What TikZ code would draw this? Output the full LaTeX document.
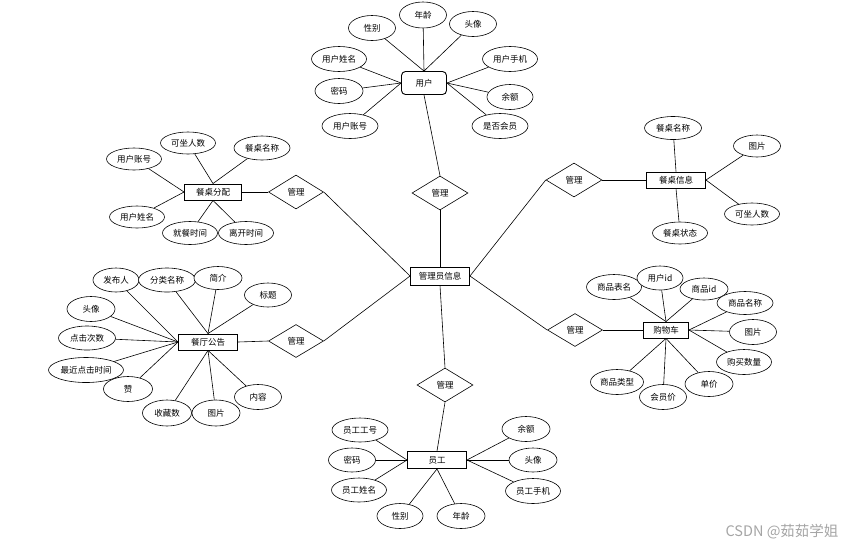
\documentclass[tikz,border=0pt]{standalone}
\usepackage{fontspec}
\newfontfamily\cjk{Noto Sans CJK SC}
\usetikzlibrary{shapes.geometric}
\definecolor{wmgray}{RGB}{165,165,165}
\tikzset{
  base/.style={font=\cjk\fontsize{8.5}{10}\selectfont, inner sep=0pt},
  attr/.style={base, ellipse, draw, line width=0.6pt, fill=white, minimum width=#1},
  attr/.default=47pt,
  ent/.style={base, rectangle, draw, line width=0.9pt, fill=white},
  rel/.style={base, diamond, draw, line width=0.6pt, fill=white, minimum width=56pt, minimum height=34pt},
  conn/.style={line width=0.6pt},
}
\begin{document}
\begin{tikzpicture}[x=1pt,y=-1pt]
\useasboundingbox (0,0) rectangle (851,547);

% ---------- central ----------
\node[ent, minimum width=59pt, minimum height=18pt] (adm) at (440,276) {管理员信息};

% ---------- 用户 ----------
\node[ent, rounded corners=4pt, minimum width=45pt, minimum height=23pt] (yh) at (424,83) {用户};
\node[rel] (d1) at (440,193) {管理};
\node[attr, minimum height=25pt] (yh1) at (372,28) {性别};
\node[attr, minimum height=26pt] (yh2) at (423,15) {年龄};
\node[attr, minimum height=25pt] (yh3) at (473,24) {头像};
\node[attr=55pt, minimum height=25pt] (yh4) at (339,59) {用户姓名};
\node[attr=48pt, minimum height=25pt] (yh5) at (339,91) {密码};
\node[attr=56pt, minimum height=25pt] (yh6) at (350,126) {用户账号};
\node[attr=55pt, minimum height=25pt] (yh7) at (510,59) {用户手机};
\node[attr=46pt, minimum height=25pt] (yh8) at (510,97) {余额};
\node[attr=56pt, minimum height=25pt] (yh9) at (500,126) {是否会员};
\foreach \a in {yh1,yh2,yh3} \draw[conn] (\a) -- (yh.north);
\foreach \a in {yh4,yh5,yh6} \draw[conn] (\a) -- (yh.west);
\foreach \a in {yh7,yh8,yh9} \draw[conn] (\a) -- (yh.east);
\draw[conn] (yh.south) -- (d1.north);
\draw[conn] (d1.south) -- (adm.north);

% ---------- 餐桌分配 ----------
\node[ent, minimum width=57pt, minimum height=16pt] (cz) at (213,192) {餐桌分配};
\node[rel, minimum width=55pt] (d2) at (296,192) {管理};
\node[attr=55pt, minimum height=22pt] (cz1) at (188,143) {可坐人数};
\node[attr=56pt, minimum height=24pt] (cz2) at (262,148) {餐桌名称};
\node[attr=55pt, minimum height=22pt] (cz3) at (134,159) {用户账号};
\node[attr=55pt, minimum height=22pt] (cz4) at (137,217) {用户姓名};
\node[attr=55pt, minimum height=23pt] (cz5) at (190,233) {就餐时间};
\node[attr=55pt, minimum height=23pt] (cz6) at (246,233) {离开时间};
\foreach \a in {cz1,cz2} \draw[conn] (\a) -- (cz.north);
\foreach \a in {cz3,cz4} \draw[conn] (\a) -- (cz.west);
\foreach \a in {cz5,cz6} \draw[conn] (\a) -- (cz.south);
\draw[conn] (cz.east) -- (d2.west);
\draw[conn] (d2.east) -- (adm.west);

% ---------- 餐桌信息 ----------
\node[ent, minimum width=59pt, minimum height=16pt] (cx) at (676,180) {餐桌信息};
\node[rel] (d3) at (574,180) {管理};
\node[attr=57pt, minimum height=23pt] (cx1) at (673,128) {餐桌名称};
\node[attr=47pt, minimum height=22pt] (cx2) at (757,146) {图片};
\node[attr=55pt, minimum height=22pt] (cx3) at (752,214) {可坐人数};
\node[attr=55pt, minimum height=22pt] (cx4) at (680,233) {餐桌状态};
\draw[conn] (cx1) -- (cx.north);
\foreach \a in {cx2,cx3} \draw[conn] (\a) -- (cx.east);
\draw[conn] (cx4) -- (cx.south);
\draw[conn] (d3.east) -- (cx.west);
\draw[conn] (adm.east) -- (d3.west);

% ---------- 餐厅公告 ----------
\node[ent, minimum width=59pt, minimum height=16pt] (gg) at (208,342) {餐厅公告};
\node[rel, minimum width=55pt, minimum height=33pt] (d4) at (296,341) {管理};
\node[attr=46pt, minimum height=24pt] (gg1) at (116,280) {发布人};
\node[attr=57pt, minimum height=24pt] (gg2) at (167,280) {分类名称};
\node[attr=48pt, minimum height=23pt] (gg3) at (218,278) {简介};
\node[attr=47pt, minimum height=24pt] (gg4) at (268,295) {标题};
\node[attr=48pt, minimum height=25pt] (gg5) at (91,309) {头像};
\node[attr=57pt, minimum height=24pt] (gg6) at (87,338) {点击次数};
\node[attr=75pt, minimum height=25pt] (gg7) at (86,370) {最近点击时间};
\node[attr=49pt, minimum height=25pt] (gg8) at (128,389) {赞};
\node[attr=49pt, minimum height=26pt] (gg9) at (167,413) {收藏数};
\node[attr=48pt, minimum height=26pt] (gg10) at (216,413) {图片};
\node[attr=47pt, minimum height=25pt] (gg11) at (258,397) {内容};
\foreach \a in {gg2,gg3,gg4} \draw[conn] (\a) -- (gg.north);
\foreach \a in {gg1,gg5,gg6,gg7,gg8} \draw[conn] (\a) -- (gg.west);
\foreach \a in {gg9,gg10,gg11} \draw[conn] (\a) -- (gg.south);
\draw[conn] (gg.east) -- (d4.west);
\draw[conn] (d4.east) -- (adm.west);

% ---------- 购物车 ----------
\node[ent, minimum width=45pt, minimum height=16pt] (gw) at (666,330) {购物车};
\node[rel, minimum width=55pt, minimum height=33pt] (d6) at (575,330) {管理};
\node[attr=55pt, minimum height=25pt] (gw1) at (614,287) {商品表名};
\node[attr=46pt, minimum height=24pt] (gw2) at (660,278) {用户id};
\node[attr=48pt, minimum height=22pt] (gw3) at (704,289) {商品id};
\node[attr=56pt, minimum height=23pt] (gw4) at (745,303) {商品名称};
\node[attr=47pt, minimum height=25pt] (gw5) at (753,332) {图片};
\node[attr=55pt, minimum height=25pt] (gw6) at (744,362) {购买数量};
\node[attr=48pt, minimum height=25pt] (gw7) at (709,384) {单价};
\node[attr=47pt, minimum height=25pt] (gw8) at (663,397) {会员价};
\node[attr=53pt, minimum height=25pt] (gw9) at (617,382) {商品类型};
\foreach \a in {gw1,gw2,gw3} \draw[conn] (\a) -- (gw.north);
\foreach \a in {gw4,gw5,gw6} \draw[conn] (\a) -- (gw.east);
\foreach \a in {gw7,gw8,gw9} \draw[conn] (\a) -- (gw.south);
\draw[conn] (d6.east) -- (gw.west);
\draw[conn] (adm.east) -- (d6.west);

% ---------- 员工 ----------
\node[ent, minimum width=59pt, minimum height=17pt] (yg) at (437,460) {员工};
\node[rel] (d5) at (445,385) {管理};
\node[attr=56pt, minimum height=24pt] (yg1) at (360,430) {员工工号};
\node[attr=47pt, minimum height=24pt] (yg2) at (352,460) {密码};
\node[attr=55pt, minimum height=24pt] (yg3) at (359,490) {员工姓名};
\node[attr=46pt, minimum height=25pt] (yg4) at (400,516) {性别};
\node[attr=48pt, minimum height=25pt] (yg5) at (461,516) {年龄};
\node[attr=48pt, minimum height=25pt] (yg6) at (526,429) {余额};
\node[attr=48pt, minimum height=24pt] (yg7) at (533,460) {头像};
\node[attr=55pt, minimum height=25pt] (yg8) at (533,491) {员工手机};
\foreach \a in {yg1,yg2,yg3} \draw[conn] (\a) -- (yg.west);
\foreach \a in {yg6,yg7,yg8} \draw[conn] (\a) -- (yg.east);
\foreach \a in {yg4,yg5} \draw[conn] (\a) -- (yg.south);
\draw[conn] (adm.south) -- (d5.north);
\draw[conn] (d5.south) -- (yg.north);

% ---------- watermark ----------
\node[font=\cjk\fontsize{14.5}{16}\selectfont, text=wmgray, inner sep=0pt] (wm) at (782,532) {CSDN @茹茹学姐};
\end{tikzpicture}
\end{document}
